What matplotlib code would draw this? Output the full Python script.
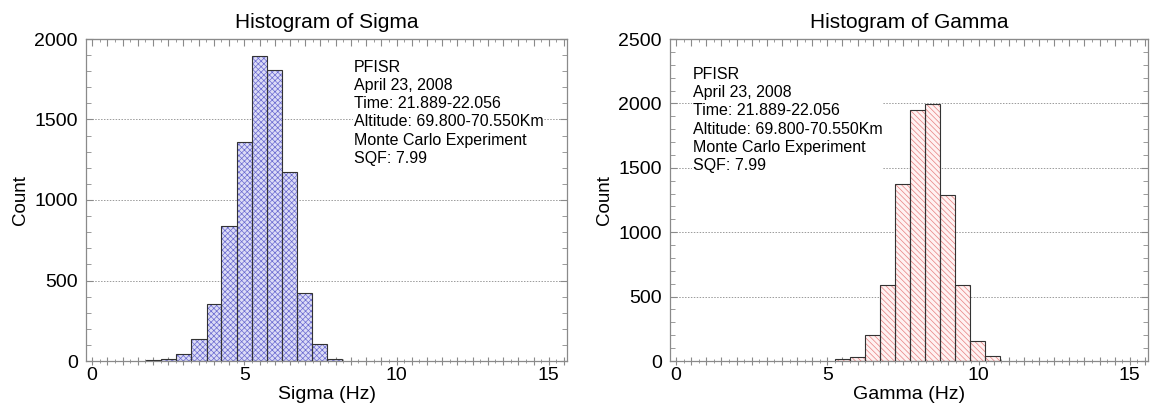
import matplotlib
matplotlib.use("Agg")
import matplotlib.pyplot as plt
from matplotlib.ticker import MultipleLocator, FuncFormatter

plt.rcParams['font.family'] = ['Liberation Sans', 'DejaVu Sans']
plt.rcParams['hatch.linewidth'] = 0.5

# ---- data ----
sigma_edges = [1.78, 2.27, 2.76, 3.26, 3.76, 4.25, 4.75, 5.24, 5.74, 6.24, 6.73, 7.23, 7.73, 8.21]
sigma_counts = [8, 14, 45, 137, 355, 836, 1363, 1897, 1810, 1172, 423, 104, 12]

gamma_edges = [5.26, 5.76, 6.25, 6.75, 7.24, 7.74, 8.24, 8.74, 9.23, 9.73, 10.22, 10.72]
gamma_counts = [13, 33, 199, 587, 1372, 1950, 1997, 1289, 587, 153, 41]

info_lines = ["PFISR", "April 23, 2008", "Time: 21.889-22.056",
              "Altitude: 69.800-70.550Km", "Monte Carlo Experiment", "SQF: 7.99"]

titles = ["Histogram of Sigma", "Histogram of Gamma"]
xlabels = ["Sigma (Hz)", "Gamma (Hz)"]
ylims = [2000, 2500]

fig = plt.figure(figsize=(11.51, 4.15), dpi=100)
ax1 = fig.add_axes([86/1151, 1-361/415, (567-86)/1151, (361-39)/415])
ax2 = fig.add_axes([670/1151, 1-361/415, (1148-670)/1151, (361-39)/415])

spine_c = '#8a8a8a'

def style(ax, ymax, title, xlabel, text_x, text_y):
    ax.set_xlim(-0.2, 15.6)
    ax.set_ylim(0, ymax)
    for s in ax.spines.values():
        s.set_color(spine_c)
        s.set_linewidth(0.9)
    ax.set_axisbelow(True)
    ax.yaxis.grid(True, which='major', color='#9a9a9a', linestyle=(0, (1.5, 1.5)), linewidth=0.7)
    ax.xaxis.set_major_locator(MultipleLocator(0.5))
    ax.xaxis.set_minor_locator(MultipleLocator(0.25))
    ax.xaxis.set_major_formatter(FuncFormatter(
        lambda v, p: f"{int(round(v))}" if abs(v/5 - round(v/5)) < 1e-6 else ""))
    ax.yaxis.set_major_locator(MultipleLocator(500))
    ax.yaxis.set_minor_locator(MultipleLocator(100))
    ax.tick_params(axis='x', which='both', direction='inout', bottom=True, top=False,
                   color=spine_c, labelsize=14, pad=1)
    ax.tick_params(axis='x', which='major', length=6, width=0.8)
    ax.tick_params(axis='x', which='minor', length=3, width=0.6)
    ax.tick_params(axis='y', which='both', direction='in', left=True, right=True,
                   color=spine_c, labelsize=14, pad=6)
    ax.tick_params(axis='y', which='major', length=5, width=0.8)
    ax.tick_params(axis='y', which='minor', length=3.5, width=0.6)
    sec = ax.secondary_xaxis('top')
    sec.xaxis.set_major_locator(MultipleLocator(0.5))
    sec.xaxis.set_minor_locator(MultipleLocator(0.25))
    sec.spines['top'].set_color(spine_c)
    sec.tick_params(axis='x', which='both', direction='in', color=spine_c, labeltop=False)
    sec.tick_params(axis='x', which='major', length=5, width=0.8)
    sec.tick_params(axis='x', which='minor', length=2.5, width=0.6)
    ax.set_title(title, fontsize=15, pad=8)
    ax.set_xlabel(xlabel, fontsize=14, labelpad=2)
    ax.set_ylabel("Count", fontsize=13.5, labelpad=4)
    ax.text(text_x, text_y, "\n".join(info_lines), transform=ax.transAxes,
            fontsize=11.5, va='top', ha='left', linespacing=1.27, zorder=5,
            bbox=dict(boxstyle='square,pad=0.05', facecolor='white', edgecolor='none'))

def draw_hist(ax, edges, counts, face, hcol, hatch):
    lefts = edges[:-1]
    widths = [b - a for a, b in zip(edges[:-1], edges[1:])]
    ax.bar(lefts, counts, width=widths, align='edge', facecolor=face,
           edgecolor=hcol, hatch=hatch, linewidth=0, zorder=2)
    ax.bar(lefts, counts, width=widths, align='edge', facecolor='none',
           edgecolor='#333333', linewidth=0.8, zorder=3)

draw_hist(ax1, sigma_edges, sigma_counts, '#dcdcf6', '#6a6ad0', 'xxxxxx')
draw_hist(ax2, gamma_edges, gamma_counts, '#fff2f2', '#e68080', '\\\\\\\\\\\\')

style(ax1, ylims[0], titles[0], xlabels[0], 0.557, 0.936)
style(ax2, ylims[1], titles[1], xlabels[1], 0.048, 0.913)

fig.savefig("out.png", dpi=100)
